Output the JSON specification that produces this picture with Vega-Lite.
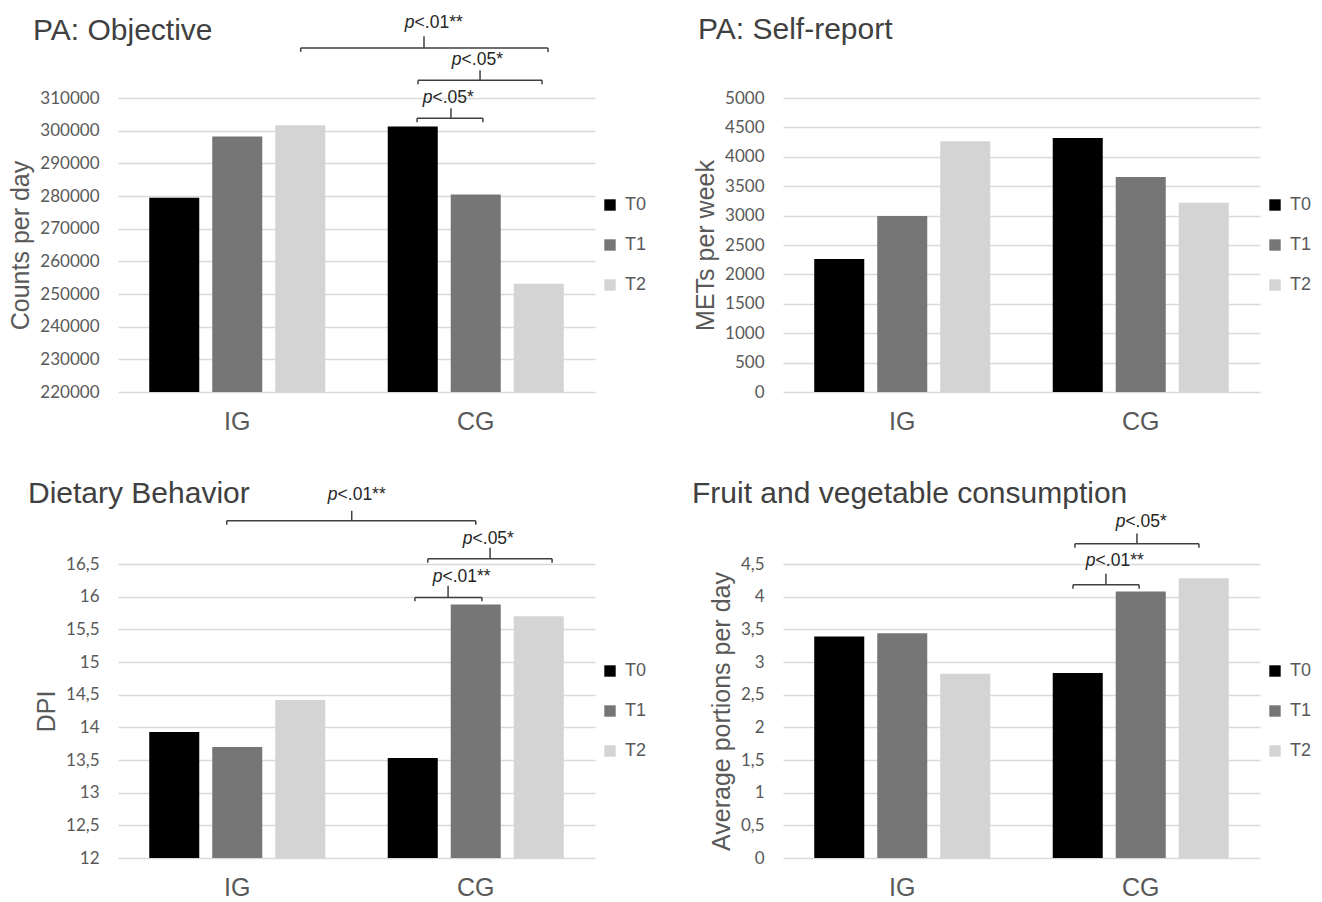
{
  "$schema": "https://vega.github.io/schema/vega-lite/v6.json",
  "background": "white",
  "padding": {"left": 8, "top": 14, "right": 0, "bottom": 0},
  "autosize": {"type": "pad"},
  "config": {
    "view": {"stroke": null},
    "font": "Liberation Sans",
    "axisY": {"domain": false, "ticks": false, "gridColor": "#d9d9d9", "gridWidth": 1.4, "labelFont": "Lato", "labelFontSize": 17, "labelColor": "#595959", "labelPadding": 19, "titleFont": "Liberation Sans", "titleFontSize": 25, "titleFontWeight": "normal", "titleColor": "#595959", "titlePadding": 6},
    "axisX": {"domain": false, "ticks": false, "grid": false, "labelFontSize": 25, "labelColor": "#595959", "labelPadding": 17, "labelAngle": 0, "title": null},
    "legend": {"orient": "none", "legendX": 483, "legendY": 98, "symbolType": "square", "symbolSize": 130, "symbolStrokeWidth": 0, "labelFontSize": 18, "labelColor": "#595959", "labelOffset": 6, "rowPadding": 22, "padding": 0, "title": null},
    "title": {"anchor": "start", "frame": "group", "fontSize": 30, "fontWeight": "normal", "color": "#404040", "baseline": "alphabetic"}
  },
  "datasets": {
    "pa_obj": [
      {"group": "IG", "time": "T0", "value": 279450},
      {"group": "IG", "time": "T1", "value": 298250},
      {"group": "IG", "time": "T2", "value": 301650},
      {"group": "CG", "time": "T0", "value": 301300},
      {"group": "CG", "time": "T1", "value": 280450},
      {"group": "CG", "time": "T2", "value": 253100}
    ],
    "pa_self": [
      {"group": "IG", "time": "T0", "value": 2260},
      {"group": "IG", "time": "T1", "value": 2995},
      {"group": "IG", "time": "T2", "value": 4264},
      {"group": "CG", "time": "T0", "value": 4320},
      {"group": "CG", "time": "T1", "value": 3656},
      {"group": "CG", "time": "T2", "value": 3218}
    ],
    "diet": [
      {"group": "IG", "time": "T0", "value": 13.93},
      {"group": "IG", "time": "T1", "value": 13.70},
      {"group": "IG", "time": "T2", "value": 14.42},
      {"group": "CG", "time": "T0", "value": 13.53},
      {"group": "CG", "time": "T1", "value": 15.88},
      {"group": "CG", "time": "T2", "value": 15.70}
    ],
    "fv": [
      {"group": "IG", "time": "T0", "value": 3.39},
      {"group": "IG", "time": "T1", "value": 3.44},
      {"group": "IG", "time": "T2", "value": 2.82},
      {"group": "CG", "time": "T0", "value": 2.83},
      {"group": "CG", "time": "T1", "value": 4.08},
      {"group": "CG", "time": "T2", "value": 4.28}
    ],
    "br_pa_obj": [
      {"label": "<.01**", "x1": 0.766, "x2": 1.803, "xm": 1.283, "xl": 1.317, "y": 325337, "yh": 324110, "yt": 328926, "yl": 332914},
      {"label": "<.05*", "x1": 1.258, "x2": 1.778, "xm": 1.518, "xl": 1.514, "y": 315429, "yh": 314202, "yt": 318497, "yl": 321565},
      {"label": "<.05*", "x1": 1.254, "x2": 1.530, "xm": 1.396, "xl": 1.392, "y": 303773, "yh": 302546, "yt": 306840, "yl": 309908}
    ],
    "br_diet": [
      {"label": "<.01**", "x1": 0.456, "x2": 1.500, "xm": 0.980, "xl": 0.994, "y": 17.162, "yh": 17.101, "yt": 17.315, "yl": 17.560},
      {"label": "<.05*", "x1": 1.299, "x2": 1.820, "xm": 1.560, "xl": 1.560, "y": 16.581, "yh": 16.520, "yt": 16.749, "yl": 16.887},
      {"label": "<.01**", "x1": 1.245, "x2": 1.526, "xm": 1.384, "xl": 1.434, "y": 15.989, "yh": 15.928, "yt": 16.168, "yl": 16.306}
    ],
    "br_fv": [
      {"label": "<.05*", "x1": 1.224, "x2": 1.744, "xm": 1.484, "xl": 1.509, "y": 4.810, "yh": 4.749, "yt": 4.968, "yl": 5.136},
      {"label": "<.01**", "x1": 1.216, "x2": 1.493, "xm": 1.354, "xl": 1.384, "y": 4.183, "yh": 4.122, "yt": 4.352, "yl": 4.550}
    ]
  },
  "columns": 2,
  "spacing": {"row": 172, "column": 188},
  "bounds": "flush",
  "resolve": {"scale": {"color": "independent", "x": "independent", "y": "independent"}, "legend": {"color": "independent"}},
  "concat": [
    {
      "width": 477, "height": 294,
      "title": {"text": "PA: Objective", "dx": -85, "offset": -31.6},
      "resolve": {"scale": {"x": "independent", "y": "independent"}},
      "layer": [
        {
          "data": {"name": "pa_obj"},
          "mark": {"type": "bar", "clip": true},
          "encoding": {
            "x": {"field": "group", "type": "nominal", "sort": ["IG", "CG"], "scale": {"paddingInner": 0.262, "paddingOuter": 0.131}},
            "xOffset": {"field": "time", "type": "nominal", "sort": ["T0", "T1", "T2"], "scale": {"paddingInner": 0.206, "paddingOuter": 0}},
            "y": {"field": "value", "type": "quantitative", "scale": {"domain": [220000, 310000], "nice": false, "zero": false}, "axis": {"title": "Counts per day", "format": "d", "values": [220000, 230000, 240000, 250000, 260000, 270000, 280000, 290000, 300000, 310000]}},
            "color": {"field": "time", "type": "nominal", "scale": {"domain": ["T0", "T1", "T2"], "range": ["#000000", "#767676", "#d4d4d4"]}}
          }
        },
        {
          "data": {"name": "br_pa_obj"},
          "mark": {"type": "rule", "color": "#404040", "strokeWidth": 1.5},
          "encoding": {
            "x": {"field": "x1", "type": "quantitative", "scale": {"domain": [0, 2], "nice": false, "zero": false}, "axis": null},
            "x2": {"field": "x2"},
            "y": {"field": "y", "type": "quantitative", "scale": {"domain": [220000, 310000], "nice": false, "zero": false}, "axis": null}
          }
        },
        {
          "data": {"name": "br_pa_obj"},
          "mark": {"type": "rule", "color": "#404040", "strokeWidth": 1.5},
          "encoding": {
            "x": {"field": "x1", "type": "quantitative", "scale": {"domain": [0, 2], "nice": false, "zero": false}, "axis": null},
            "y": {"field": "y", "type": "quantitative", "scale": {"domain": [220000, 310000], "nice": false, "zero": false}, "axis": null},
            "y2": {"field": "yh"}
          }
        },
        {
          "data": {"name": "br_pa_obj"},
          "mark": {"type": "rule", "color": "#404040", "strokeWidth": 1.5},
          "encoding": {
            "x": {"field": "x2", "type": "quantitative", "scale": {"domain": [0, 2], "nice": false, "zero": false}, "axis": null},
            "y": {"field": "y", "type": "quantitative", "scale": {"domain": [220000, 310000], "nice": false, "zero": false}, "axis": null},
            "y2": {"field": "yh"}
          }
        },
        {
          "data": {"name": "br_pa_obj"},
          "mark": {"type": "rule", "color": "#404040", "strokeWidth": 1.5},
          "encoding": {
            "x": {"field": "xm", "type": "quantitative", "scale": {"domain": [0, 2], "nice": false, "zero": false}, "axis": null},
            "y": {"field": "y", "type": "quantitative", "scale": {"domain": [220000, 310000], "nice": false, "zero": false}, "axis": null},
            "y2": {"field": "yt"}
          }
        },
        {
          "data": {"name": "br_pa_obj"},
          "mark": {"type": "text", "text": "p", "fontStyle": "italic", "align": "right", "baseline": "middle", "dx": -17.5, "fontSize": 17.5, "color": "#262626"},
          "encoding": {
            "x": {"field": "xl", "type": "quantitative", "scale": {"domain": [0, 2], "nice": false, "zero": false}, "axis": null},
            "y": {"field": "yl", "type": "quantitative", "scale": {"domain": [220000, 310000], "nice": false, "zero": false}, "axis": null}
          }
        },
        {
          "data": {"name": "br_pa_obj"},
          "mark": {"type": "text", "align": "left", "baseline": "middle", "dx": -17.5, "fontSize": 17.5, "color": "#262626"},
          "encoding": {
            "text": {"field": "label"},
            "x": {"field": "xl", "type": "quantitative", "scale": {"domain": [0, 2], "nice": false, "zero": false}, "axis": null},
            "y": {"field": "yl", "type": "quantitative", "scale": {"domain": [220000, 310000], "nice": false, "zero": false}, "axis": null}
          }
        }
      ]
    },
    {
      "width": 477, "height": 294,
      "title": {"text": "PA: Self-report", "dx": -85, "offset": 43.8},
      "data": {"name": "pa_self"},
      "mark": {"type": "bar", "clip": true},
      "encoding": {
        "x": {"field": "group", "type": "nominal", "sort": ["IG", "CG"], "scale": {"paddingInner": 0.262, "paddingOuter": 0.131}},
        "xOffset": {"field": "time", "type": "nominal", "sort": ["T0", "T1", "T2"], "scale": {"paddingInner": 0.206, "paddingOuter": 0}},
        "y": {"field": "value", "type": "quantitative", "scale": {"domain": [0, 5000], "nice": false}, "axis": {"title": "METs per week", "format": "d", "values": [0, 500, 1000, 1500, 2000, 2500, 3000, 3500, 4000, 4500, 5000]}},
        "color": {"field": "time", "type": "nominal", "scale": {"domain": ["T0", "T1", "T2"], "range": ["#000000", "#767676", "#d4d4d4"]}}
      }
    },
    {
      "width": 477, "height": 294,
      "title": {"text": "Dietary Behavior", "dx": -90, "offset": -23.75},
      "resolve": {"scale": {"x": "independent", "y": "independent"}},
      "layer": [
        {
          "data": {"name": "diet"},
          "mark": {"type": "bar", "clip": true},
          "encoding": {
            "x": {"field": "group", "type": "nominal", "sort": ["IG", "CG"], "scale": {"paddingInner": 0.262, "paddingOuter": 0.131}},
            "xOffset": {"field": "time", "type": "nominal", "sort": ["T0", "T1", "T2"], "scale": {"paddingInner": 0.206, "paddingOuter": 0}},
            "y": {"field": "value", "type": "quantitative", "scale": {"domain": [12, 16.5], "nice": false, "zero": false}, "axis": {"title": "DPI", "format": "~g", "labelExpr": "replace(datum.label, '.', ',')", "values": [12, 12.5, 13, 13.5, 14, 14.5, 15, 15.5, 16, 16.5]}},
            "color": {"field": "time", "type": "nominal", "scale": {"domain": ["T0", "T1", "T2"], "range": ["#000000", "#767676", "#d4d4d4"]}}
          }
        },
        {
          "data": {"name": "br_diet"},
          "mark": {"type": "rule", "color": "#404040", "strokeWidth": 1.5},
          "encoding": {
            "x": {"field": "x1", "type": "quantitative", "scale": {"domain": [0, 2], "nice": false, "zero": false}, "axis": null},
            "x2": {"field": "x2"},
            "y": {"field": "y", "type": "quantitative", "scale": {"domain": [12, 16.5], "nice": false, "zero": false}, "axis": null}
          }
        },
        {
          "data": {"name": "br_diet"},
          "mark": {"type": "rule", "color": "#404040", "strokeWidth": 1.5},
          "encoding": {
            "x": {"field": "x1", "type": "quantitative", "scale": {"domain": [0, 2], "nice": false, "zero": false}, "axis": null},
            "y": {"field": "y", "type": "quantitative", "scale": {"domain": [12, 16.5], "nice": false, "zero": false}, "axis": null},
            "y2": {"field": "yh"}
          }
        },
        {
          "data": {"name": "br_diet"},
          "mark": {"type": "rule", "color": "#404040", "strokeWidth": 1.5},
          "encoding": {
            "x": {"field": "x2", "type": "quantitative", "scale": {"domain": [0, 2], "nice": false, "zero": false}, "axis": null},
            "y": {"field": "y", "type": "quantitative", "scale": {"domain": [12, 16.5], "nice": false, "zero": false}, "axis": null},
            "y2": {"field": "yh"}
          }
        },
        {
          "data": {"name": "br_diet"},
          "mark": {"type": "rule", "color": "#404040", "strokeWidth": 1.5},
          "encoding": {
            "x": {"field": "xm", "type": "quantitative", "scale": {"domain": [0, 2], "nice": false, "zero": false}, "axis": null},
            "y": {"field": "y", "type": "quantitative", "scale": {"domain": [12, 16.5], "nice": false, "zero": false}, "axis": null},
            "y2": {"field": "yt"}
          }
        },
        {
          "data": {"name": "br_diet"},
          "mark": {"type": "text", "text": "p", "fontStyle": "italic", "align": "right", "baseline": "middle", "dx": -17.5, "fontSize": 17.5, "color": "#262626"},
          "encoding": {
            "x": {"field": "xl", "type": "quantitative", "scale": {"domain": [0, 2], "nice": false, "zero": false}, "axis": null},
            "y": {"field": "yl", "type": "quantitative", "scale": {"domain": [12, 16.5], "nice": false, "zero": false}, "axis": null}
          }
        },
        {
          "data": {"name": "br_diet"},
          "mark": {"type": "text", "align": "left", "baseline": "middle", "dx": -17.5, "fontSize": 17.5, "color": "#262626"},
          "encoding": {
            "text": {"field": "label"},
            "x": {"field": "xl", "type": "quantitative", "scale": {"domain": [0, 2], "nice": false, "zero": false}, "axis": null},
            "y": {"field": "yl", "type": "quantitative", "scale": {"domain": [12, 16.5], "nice": false, "zero": false}, "axis": null}
          }
        }
      ]
    },
    {
      "width": 477, "height": 294,
      "title": {"text": "Fruit and vegetable consumption", "dx": -91, "offset": 3.95},
      "resolve": {"scale": {"x": "independent", "y": "independent"}},
      "layer": [
        {
          "data": {"name": "fv"},
          "mark": {"type": "bar", "clip": true},
          "encoding": {
            "x": {"field": "group", "type": "nominal", "sort": ["IG", "CG"], "scale": {"paddingInner": 0.262, "paddingOuter": 0.131}},
            "xOffset": {"field": "time", "type": "nominal", "sort": ["T0", "T1", "T2"], "scale": {"paddingInner": 0.206, "paddingOuter": 0}},
            "y": {"field": "value", "type": "quantitative", "scale": {"domain": [0, 4.5], "nice": false}, "axis": {"title": "Average portions per day", "format": "~g", "labelExpr": "replace(datum.label, '.', ',')", "values": [0, 0.5, 1, 1.5, 2, 2.5, 3, 3.5, 4, 4.5]}},
            "color": {"field": "time", "type": "nominal", "scale": {"domain": ["T0", "T1", "T2"], "range": ["#000000", "#767676", "#d4d4d4"]}}
          }
        },
        {
          "data": {"name": "br_fv"},
          "mark": {"type": "rule", "color": "#404040", "strokeWidth": 1.5},
          "encoding": {
            "x": {"field": "x1", "type": "quantitative", "scale": {"domain": [0, 2], "nice": false, "zero": false}, "axis": null},
            "x2": {"field": "x2"},
            "y": {"field": "y", "type": "quantitative", "scale": {"domain": [0, 4.5], "nice": false}, "axis": null}
          }
        },
        {
          "data": {"name": "br_fv"},
          "mark": {"type": "rule", "color": "#404040", "strokeWidth": 1.5},
          "encoding": {
            "x": {"field": "x1", "type": "quantitative", "scale": {"domain": [0, 2], "nice": false, "zero": false}, "axis": null},
            "y": {"field": "y", "type": "quantitative", "scale": {"domain": [0, 4.5], "nice": false}, "axis": null},
            "y2": {"field": "yh"}
          }
        },
        {
          "data": {"name": "br_fv"},
          "mark": {"type": "rule", "color": "#404040", "strokeWidth": 1.5},
          "encoding": {
            "x": {"field": "x2", "type": "quantitative", "scale": {"domain": [0, 2], "nice": false, "zero": false}, "axis": null},
            "y": {"field": "y", "type": "quantitative", "scale": {"domain": [0, 4.5], "nice": false}, "axis": null},
            "y2": {"field": "yh"}
          }
        },
        {
          "data": {"name": "br_fv"},
          "mark": {"type": "rule", "color": "#404040", "strokeWidth": 1.5},
          "encoding": {
            "x": {"field": "xm", "type": "quantitative", "scale": {"domain": [0, 2], "nice": false, "zero": false}, "axis": null},
            "y": {"field": "y", "type": "quantitative", "scale": {"domain": [0, 4.5], "nice": false}, "axis": null},
            "y2": {"field": "yt"}
          }
        },
        {
          "data": {"name": "br_fv"},
          "mark": {"type": "text", "text": "p", "fontStyle": "italic", "align": "right", "baseline": "middle", "dx": -17.5, "fontSize": 17.5, "color": "#262626"},
          "encoding": {
            "x": {"field": "xl", "type": "quantitative", "scale": {"domain": [0, 2], "nice": false, "zero": false}, "axis": null},
            "y": {"field": "yl", "type": "quantitative", "scale": {"domain": [0, 4.5], "nice": false}, "axis": null}
          }
        },
        {
          "data": {"name": "br_fv"},
          "mark": {"type": "text", "align": "left", "baseline": "middle", "dx": -17.5, "fontSize": 17.5, "color": "#262626"},
          "encoding": {
            "text": {"field": "label"},
            "x": {"field": "xl", "type": "quantitative", "scale": {"domain": [0, 2], "nice": false, "zero": false}, "axis": null},
            "y": {"field": "yl", "type": "quantitative", "scale": {"domain": [0, 4.5], "nice": false}, "axis": null}
          }
        }
      ]
    }
  ]
}
